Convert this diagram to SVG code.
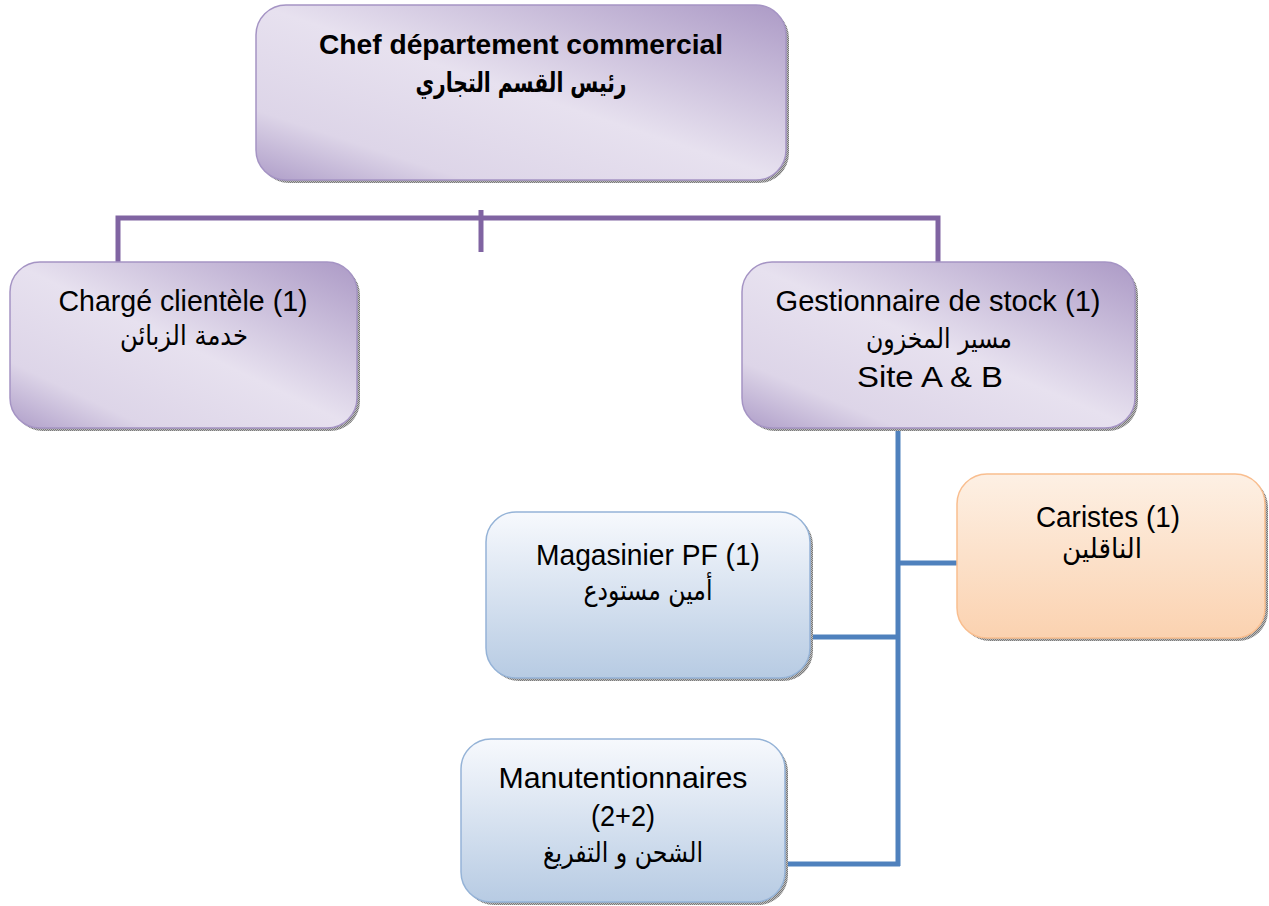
<svg xmlns="http://www.w3.org/2000/svg" width="1269" height="906" viewBox="0 0 1269 906">
<defs>
<linearGradient id="gp" x1="1" y1="0" x2="0" y2="1">
<stop offset="0" stop-color="#ac9ac6"/>
<stop offset="0.5" stop-color="#e7e1ef"/>
<stop offset="0.8" stop-color="#ddd5e8"/>
<stop offset="1" stop-color="#ae9dc8"/>
</linearGradient>
<linearGradient id="gb" x1="0" y1="0" x2="0" y2="1">
<stop offset="0" stop-color="#f7f9fd"/>
<stop offset="1" stop-color="#b7cbe3"/>
</linearGradient>
<linearGradient id="go" x1="0" y1="0" x2="0" y2="1">
<stop offset="0" stop-color="#fdf0e4"/>
<stop offset="1" stop-color="#fbd2b0"/>
</linearGradient>
<pattern id="dots" width="2" height="2" patternUnits="userSpaceOnUse">
<rect width="2" height="2" fill="#bdbdbd"/>
<rect width="1" height="1" fill="#7a7a7a"/>
<rect x="1" y="1" width="1" height="1" fill="#7a7a7a"/>
</pattern>
</defs>
<style>
.sh{fill:url(#dots)}
.p{fill:url(#gp);stroke:#a594c4;stroke-width:1.5}
.b{fill:url(#gb);stroke:#95b3d7;stroke-width:1.5}
.o{fill:url(#go);stroke:#f9be8f;stroke-width:1.5}
text{font-family:"Liberation Sans","DejaVu Sans",sans-serif;fill:#000;text-anchor:middle}
.ar{font-family:"DejaVu Sans","Liberation Sans",sans-serif}
.t{font-size:30px}
.a{font-size:28px}
.bold{font-weight:bold}
.cp{fill:none;stroke:#8064a2;stroke-width:5}
.cb{fill:none;stroke:#4f81bd;stroke-width:5}
</style>
<g id="connectors">
<path class="cp" d="M118,262 V218 H938 V262"/>
<path class="cp" d="M481,210 V252"/>
<path class="cb" d="M898,428 V866"/>
<path class="cb" d="M898,563 H957"/>
<path class="cb" d="M808,637 H898"/>
<path class="cb" d="M783,864 H900"/>
</g>
<g id="chef">
<rect class="sh" x="259" y="8" width="530" height="175" rx="30"/>
<rect class="p" x="256" y="5" width="530" height="175" rx="30"/>
<text class="bold" x="521" y="54" font-size="28" textLength="404" lengthAdjust="spacingAndGlyphs">Chef département commercial</text>
<text class="ar bold" x="521" y="92" font-size="27" textLength="211" lengthAdjust="spacingAndGlyphs">رئيس القسم التجاري</text>
</g>
<g id="charge">
<rect class="sh" x="13" y="265" width="347" height="166" rx="30"/>
<rect class="p" x="10" y="262" width="347" height="166" rx="30"/>
<text class="t" x="183" y="311" textLength="249" lengthAdjust="spacingAndGlyphs">Chargé clientèle (1)</text>
<text class="ar a" x="184" y="345" textLength="128" lengthAdjust="spacingAndGlyphs">خدمة الزبائن</text>
</g>
<g id="gestionnaire">
<rect class="sh" x="745" y="265" width="393" height="166" rx="30"/>
<rect class="p" x="742" y="262" width="393" height="166" rx="30"/>
<text class="t" x="938" y="311" textLength="325" lengthAdjust="spacingAndGlyphs">Gestionnaire de stock (1)</text>
<text class="ar a" x="939" y="348" textLength="146" lengthAdjust="spacingAndGlyphs">مسير المخزون</text>
<text class="t" x="930" y="387" textLength="146" lengthAdjust="spacingAndGlyphs">Site A &amp; B</text>
</g>
<g id="caristes">
<rect class="sh" x="960" y="477" width="308" height="164" rx="30"/>
<rect class="o" x="957" y="474" width="308" height="164" rx="30"/>
<text class="t" x="1108" y="527" textLength="144" lengthAdjust="spacingAndGlyphs">Caristes (1)</text>
<text class="ar a" x="1102" y="558" textLength="80" lengthAdjust="spacingAndGlyphs">الناقلين</text>
</g>
<g id="magasinier">
<rect class="sh" x="489" y="515" width="324" height="166" rx="30"/>
<rect class="b" x="486" y="512" width="324" height="166" rx="30"/>
<text class="t" x="648" y="565" textLength="224" lengthAdjust="spacingAndGlyphs">Magasinier PF (1)</text>
<text class="ar a" x="648" y="600" textLength="129" lengthAdjust="spacingAndGlyphs">أمين مستودع</text>
</g>
<g id="manutentionnaires">
<rect class="sh" x="464" y="742" width="324" height="163" rx="30"/>
<rect class="b" x="461" y="739" width="324" height="163" rx="30"/>
<text class="t" x="623" y="788" textLength="249" lengthAdjust="spacingAndGlyphs">Manutentionnaires</text>
<text class="t" x="623" y="826" textLength="64" lengthAdjust="spacingAndGlyphs">(2+2)</text>
<text class="ar a" x="623" y="862" textLength="160" lengthAdjust="spacingAndGlyphs">الشحن و التفريغ</text>
</g>
</svg>
